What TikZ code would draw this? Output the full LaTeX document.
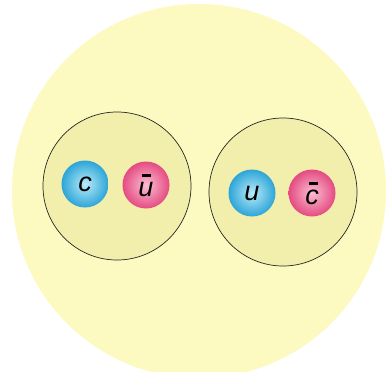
\documentclass[tikz,border=0pt]{standalone}
\usepackage{fontspec}
\setmainfont{Liberation Sans}
\definecolor{bgyellow}{RGB}{252,250,192}
\definecolor{inyellow}{RGB}{242,238,172}
\definecolor{qblue}{RGB}{45,165,215}
\definecolor{qbluein}{RGB}{185,235,250}
\definecolor{qpink}{RGB}{228,75,130}
\definecolor{qpinkin}{RGB}{252,190,210}
\newcommand{\antibar}[1]{\rlap{\hspace{4pt}\raisebox{19pt}{\rule{9pt}{3.5pt}}}#1}
\tikzset{
  x=1pt, y=-1pt,
  hadron/.style={circle, draw=black!85, line width=0.7pt, fill=inyellow, minimum size=148pt, inner sep=0pt},
  quark/.style={circle, minimum size=47pt, inner sep=0pt, shading=radial, inner color=qbluein, outer color=qblue, font=\itshape\fontsize{27}{27}\selectfont},
  antiquark/.style={quark, inner color=qpinkin, outer color=qpink},
}
\begin{document}
\begin{tikzpicture}
\useasboundingbox (0,0) rectangle (389,372);
\fill[white] (0,0) rectangle (389,372);
\begin{scope}
\clip (0,0) rectangle (389,372);
\node[circle, fill=bgyellow, minimum size=374pt, inner sep=0pt] (meson) at (199,191) {};
\end{scope}
\node[hadron] (left) at (117,186) {};
\node[hadron] (right) at (283,192) {};
\node[quark] (c) at (85,184) {c};
\node[antiquark] (ubar) at (146,185) {\antibar{u}};
\node[quark] (u) at (252,193) {u};
\node[antiquark] (cbar) at (312,193) {\antibar{c}};
\end{tikzpicture}
\end{document}
